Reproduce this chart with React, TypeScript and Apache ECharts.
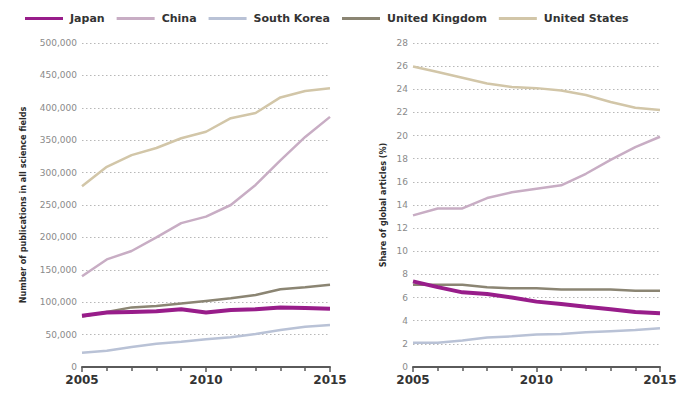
import React, { useEffect, useRef } from "react";
import * as echarts from "echarts";

const years = [2005, 2006, 2007, 2008, 2009, 2010, 2011, 2012, 2013, 2014, 2015];
const countries = ["Japan", "China", "South Korea", "United Kingdom", "United States"];

// Number of publications (all science fields)
const pubJapan = [79000, 84000, 85000, 86000, 89000, 84000, 88000, 89000, 92000, 91000, 90000];
const pubChina = [140000, 166000, 179000, 200000, 222000, 232000, 250000, 281000, 319000, 355000, 386000];
const pubKorea = [22000, 25000, 31000, 36000, 39000, 43000, 46000, 51000, 57000, 62000, 65000];
const pubUK = [78000, 85000, 92000, 94000, 98000, 102000, 106000, 111000, 120000, 123000, 127000];
const pubUS = [279000, 309000, 327000, 338000, 353000, 363000, 384000, 392000, 416000, 426000, 430000];

// Share of global articles (%)
const shareJapan = [7.4, 6.9, 6.45, 6.3, 6.0, 5.65, 5.45, 5.2, 5.0, 4.75, 4.65];
const shareChina = [13.1, 13.7, 13.7, 14.6, 15.1, 15.4, 15.7, 16.7, 17.9, 19.0, 19.9];
const shareKorea = [2.1, 2.1, 2.3, 2.55, 2.65, 2.8, 2.85, 3.0, 3.1, 3.2, 3.35];
const shareUK = [7.1, 7.1, 7.1, 6.9, 6.8, 6.8, 6.7, 6.7, 6.7, 6.6, 6.6];
const shareUS = [25.97, 25.5, 25.0, 24.5, 24.2, 24.1, 23.9, 23.5, 22.9, 22.4, 22.2];

const colors: Record<string, string> = {
  Japan: "#981d8a",
  China: "#c8adc4",
  "South Korea": "#b9c2d6",
  "United Kingdom": "#8b8573",
  "United States": "#d2c6a8",
};

const pubData = [pubJapan, pubChina, pubKorea, pubUK, pubUS];
const shareData = [shareJapan, shareChina, shareKorea, shareUK, shareUS];

export default function App() {
  const ref = useRef<HTMLDivElement>(null);
  useEffect(() => {
    if (!ref.current) return;
    const chart = echarts.init(ref.current, undefined, { renderer: "svg" });
    const xAxisCommon = (gridIndex: number) => ({
      type: "value" as const,
      gridIndex,
      min: 2005,
      max: 2015,
      interval: 5,
      axisLine: { show: true, onZero: false, lineStyle: { color: "#5a5a5a", width: 2 } },
      axisTick: { show: true, length: 5, lineStyle: { color: "#5a5a5a", width: 1.5 } },
      minorTick: { show: true, splitNumber: 5, length: 4, lineStyle: { color: "#5a5a5a", width: 1.5 } },
      splitLine: { show: false },
      axisLabel: {
        color: "#333",
        fontSize: 12,
        fontWeight: "bold" as const,
        fontFamily: "DejaVu Sans",
        margin: 7,
        formatter: (v: number) => String(v),
      },
    });
    const yAxisCommon = {
      type: "value" as const,
      min: 0,
      axisLine: { show: false },
      axisTick: { show: false },
      splitLine: { show: true, lineStyle: { type: [1.5, 2.5] as any, color: "#b8b8b8", width: 1.2 } },
      axisLabel: { color: "#8a8a8a", fontSize: 9, fontFamily: "DejaVu Sans", margin: 5 },
      nameLocation: "middle" as const,
      nameRotate: 90,
      nameTextStyle: {
        color: "#2a2a2a",
        fontSize: 9,
        fontWeight: "bold" as const,
        fontFamily: "DejaVu Sans Condensed, sans-serif",
      },
    };
    const series: any[] = [];
    countries.forEach((c, i) => {
      const w = c === "Japan" ? 4 : 2.5;
      series.push({
        name: c,
        type: "line",
        xAxisIndex: 0,
        yAxisIndex: 0,
        data: years.map((y, k) => [y, pubData[i][k]]),
        showSymbol: false,
        symbol: "none",
        lineStyle: { color: colors[c], width: w },
        itemStyle: { color: colors[c] },
        z: c === "Japan" ? 5 : 3,
      });
      series.push({
        name: c,
        type: "line",
        xAxisIndex: 1,
        yAxisIndex: 1,
        data: years.map((y, k) => [y, shareData[i][k]]),
        showSymbol: false,
        symbol: "none",
        lineStyle: { color: colors[c], width: w },
        itemStyle: { color: colors[c] },
        z: c === "Japan" ? 5 : 3,
      });
    });
    chart.setOption({
      animation: false,
      backgroundColor: "#ffffff",
      legend: {
        data: countries.map((c) => ({ name: c, icon: "rect" })),
        left: 20,
        top: 8,
        itemWidth: 38,
        itemHeight: 3,
        itemGap: 12,
        textStyle: { color: "#333", fontSize: 11, fontWeight: "bold", fontFamily: "DejaVu Sans", padding: [0, 0, 0, 2] },
      },
      grid: [
        { left: 82, right: 370, top: 43, bottom: 26 },
        { left: 413, right: 40, top: 43, bottom: 26 },
      ],
      xAxis: [xAxisCommon(0), xAxisCommon(1)],
      yAxis: [
        {
          ...yAxisCommon,
          gridIndex: 0,
          max: 500000,
          interval: 50000,
          name: "Number of publications in all science fields",
          nameGap: 55,
          axisLabel: {
            ...yAxisCommon.axisLabel,
            formatter: (v: number) => v.toLocaleString("en-US"),
          },
        },
        {
          ...yAxisCommon,
          gridIndex: 1,
          max: 28,
          interval: 2,
          name: "Share of global articles (%)",
          nameGap: 26,
        },
      ],
      series,
    });
    return () => chart.dispose();
  }, []);
  return <div ref={ref} style={{ width: 700, height: 393, position: "absolute", left: 0, top: 0 }} />;
}
